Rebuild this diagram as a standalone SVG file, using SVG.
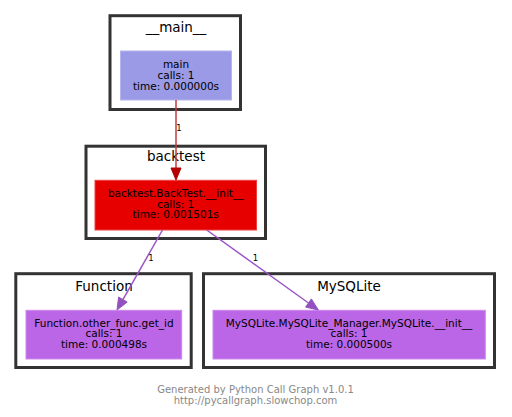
<svg xmlns="http://www.w3.org/2000/svg" width="512" height="417" viewBox="0 0 512 417">
<style>
  .cluster rect { fill: #ffffff; stroke: #333333; stroke-width: 3; }
  .ctitle { font-family: "DejaVu Sans", Verdana, sans-serif; font-size: 13.5px; fill: #000000; text-anchor: middle; }
  .ntext { font-family: "DejaVu Sans", Verdana, sans-serif; font-size: 10.5px; fill: #000000; text-anchor: middle; }
  .elabel { font-family: "DejaVu Sans", Verdana, sans-serif; font-size: 8.5px; fill: #000000; text-anchor: middle; }
  .foot { font-family: "DejaVu Sans", Verdana, sans-serif; font-size: 10px; fill: #888888; text-anchor: middle; }
  .red-line { stroke: #c43c3c; stroke-width: 1.5; fill: none; }
  .red-head { fill: #b40000; stroke: #b40000; stroke-width: 1; }
  .pur-line { stroke: #9a55c8; stroke-width: 1.5; fill: none; }
  .pur-head { fill: #9450c0; stroke: #9450c0; stroke-width: 1; }
</style>
<rect x="0" y="0" width="512" height="417" fill="#ffffff"/>

<g id="cluster-main" class="cluster">
  <rect x="110" y="15.7" width="130.5" height="93.8"/>
  <text class="ctitle" x="176" y="32">__main__</text>
</g>
<g id="cluster-backtest" class="cluster">
  <rect x="86" y="146.2" width="179.5" height="92.3"/>
  <text class="ctitle" x="176" y="160.5">backtest</text>
</g>
<g id="cluster-function" class="cluster">
  <rect x="15.8" y="273.7" width="175.4" height="93.8"/>
  <text class="ctitle" x="104" y="290.5">Function</text>
</g>
<g id="cluster-mysqlite" class="cluster">
  <rect x="203.5" y="273.7" width="291" height="93.8"/>
  <text class="ctitle" x="349" y="290.5">MySQLite</text>
</g>

<g id="node-main">
  <rect x="120.5" y="51" width="111" height="49" fill="#9a9ae6" stroke="#b4b4ee" stroke-width="1"/>
  <text class="ntext" x="176" y="68">main</text>
  <text class="ntext" x="176" y="78.5">calls: 1</text>
  <text class="ntext" x="176" y="89.5">time: 0.000000s</text>
</g>
<g id="node-backtest">
  <rect x="95" y="180.3" width="161.5" height="49.7" fill="#e60000" stroke="#ec4040" stroke-width="1"/>
  <text class="ntext" x="175.7" y="197">backtest.BackTest.__init__</text>
  <text class="ntext" x="175.7" y="207.5">calls: 1</text>
  <text class="ntext" x="175.7" y="218">time: 0.001501s</text>
</g>
<g id="node-function">
  <rect x="26" y="310.3" width="155.7" height="48.7" fill="#bb66e6" stroke="#cc88ee" stroke-width="1"/>
  <text class="ntext" x="104" y="326.5">Function.other_func.get_id</text>
  <text class="ntext" x="104" y="337">calls: 1</text>
  <text class="ntext" x="104" y="348">time: 0.000498s</text>
</g>
<g id="node-mysqlite">
  <rect x="213" y="310.3" width="272.3" height="48.7" fill="#bb66e6" stroke="#cc88ee" stroke-width="1"/>
  <text class="ntext" x="349" y="326.5">MySQLite.MySQLite_Manager.MySQLite.__init__</text>
  <text class="ntext" x="349" y="337">calls: 1</text>
  <text class="ntext" x="349" y="348">time: 0.000500s</text>
</g>

<g id="connectors">
  <line class="red-line" x1="176" y1="100" x2="176" y2="168"/>
  <polygon class="red-head" points="171,168 181,168 176,180"/>
  <text class="elabel" x="179" y="131">1</text>

  <line class="pur-line" x1="162.5" y1="230" x2="122.9" y2="299.6"/>
  <polygon class="pur-head" points="127.2,302.1 118.6,297.1 117,310"/>
  <text class="elabel" x="151" y="261">1</text>

  <line class="pur-line" x1="206.7" y1="230" x2="308.5" y2="303"/>
  <polygon class="pur-head" points="305.6,307.1 311.4,298.9 318.3,310"/>
  <text class="elabel" x="255.5" y="261">1</text>
</g>

<g id="footer">
  <text class="foot" x="255.5" y="393">Generated by Python Call Graph v1.0.1</text>
  <text class="foot" x="255.5" y="404">http://pycallgraph.slowchop.com</text>
</g>
</svg>
